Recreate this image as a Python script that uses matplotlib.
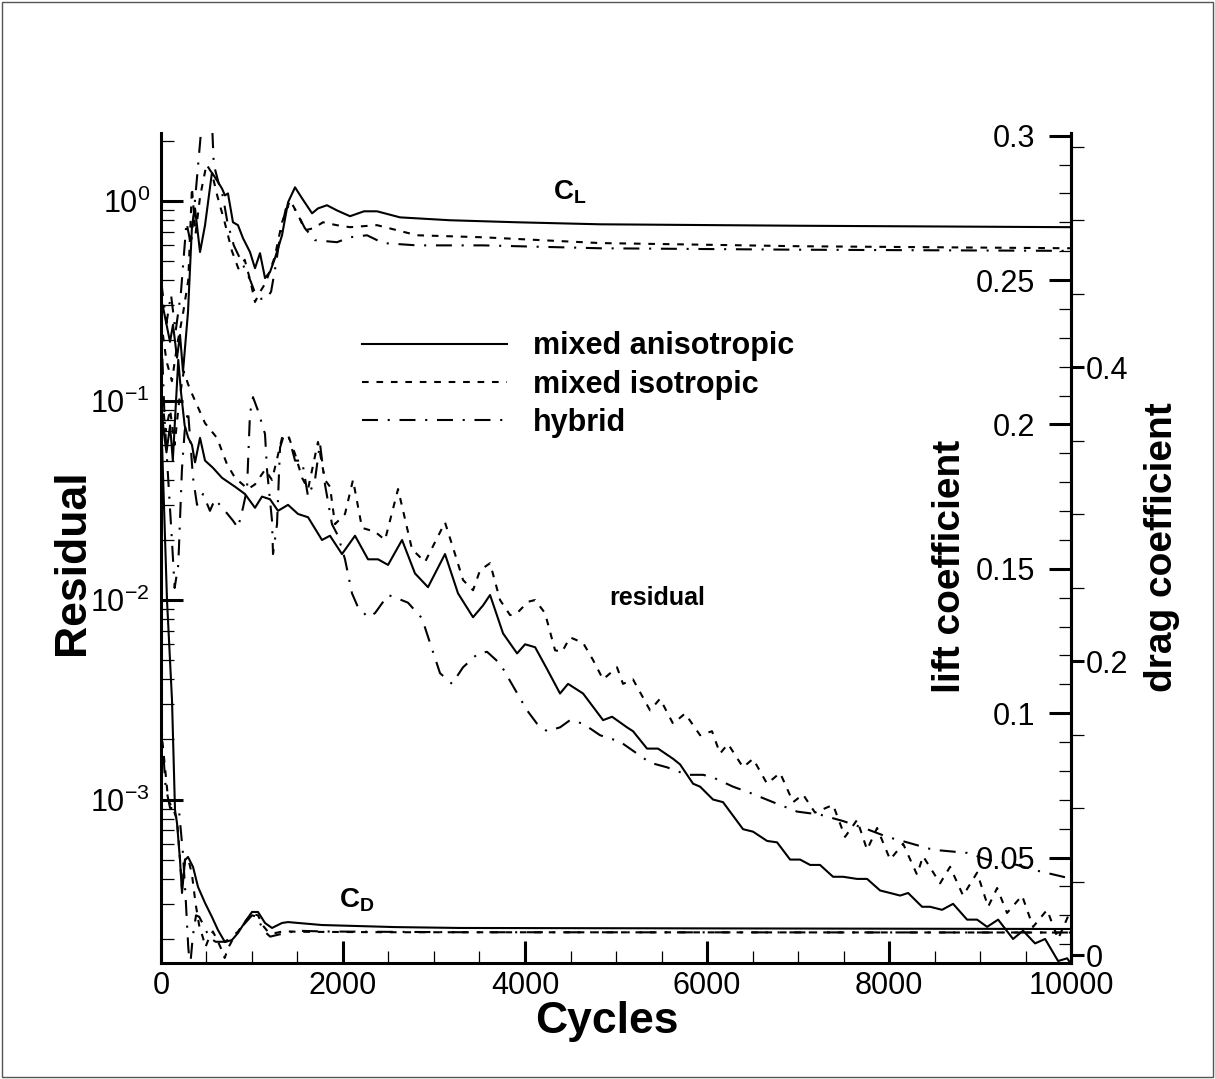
import matplotlib
matplotlib.use("Agg")
import matplotlib.pyplot as plt
from matplotlib.ticker import MultipleLocator, LogLocator, FuncFormatter, NullFormatter
from matplotlib.patches import Rectangle

plt.rcParams['font.family'] = ['Liberation Sans', 'DejaVu Sans']
plt.rcParams['mathtext.fontset'] = 'custom'
plt.rcParams['mathtext.rm'] = 'Liberation Sans'
plt.rcParams['mathtext.bf'] = 'Liberation Sans:bold'
plt.rcParams['mathtext.it'] = 'Liberation Sans:italic'
plt.rcParams['mathtext.default'] = 'regular'
plt.rcParams['axes.unicode_minus'] = False
plt.rcParams['lines.scale_dashes'] = False

# (cycles, value) pairs
aniso_res = [(0, 0.1), (30, 0.07), (60, 0.055), (100, 0.075), (130, 0.05), (160, 0.09), (190, 0.16),
             (220, 0.11), (260, 0.075), (300, 0.065), (340, 0.06), (374, 0.049), (429, 0.065), (484, 0.050),
             (571, 0.046), (670, 0.041), (813, 0.037), (923, 0.034), (1033, 0.029), (1110, 0.033),
             (1198, 0.032), (1286, 0.028), (1396, 0.030), (1506, 0.027), (1616, 0.026), (1769, 0.020),
             (1857, 0.021), (1989, 0.017), (2132, 0.021), (2275, 0.016), (2385, 0.016), (2495, 0.015),
             (2649, 0.020), (2791, 0.0136), (2934, 0.0116), (3121, 0.017), (3264, 0.0108), (3429, 0.0082),
             (3539, 0.0094), (3616, 0.0106), (3759, 0.0068), (3913, 0.0054), (4001, 0.0060), (4111, 0.0058),
             (4243, 0.0045), (4385, 0.0034), (4473, 0.0038), (4638, 0.0034), (4858, 0.0025), (4957, 0.0026),
             (5121, 0.0023), (5187, 0.0022), (5341, 0.0018), (5462, 0.0018), (5627, 0.0016), (5704, 0.0015),
             (5847, 0.0012), (5924, 0.00116), (6066, 0.0010), (6176, 0.00097), (6396, 0.00071),
             (6506, 0.00069), (6660, 0.00062), (6770, 0.00061), (6913, 0.00050), (7023, 0.00050),
             (7133, 0.00047), (7242, 0.00047), (7385, 0.00041), (7495, 0.00041), (7649, 0.00040),
             (7759, 0.00040), (7902, 0.00035), (8012, 0.00034), (8122, 0.00033), (8210, 0.00034),
             (8363, 0.00029), (8451, 0.00029), (8583, 0.00028), (8704, 0.00030), (8858, 0.00025),
             (8968, 0.00025), (9078, 0.00023), (9199, 0.00025), (9363, 0.00020), (9473, 0.00022),
             (9605, 0.00019), (9715, 0.00020), (9858, 0.000155), (9957, 0.00016), (10000, 0.00015)]

iso_res = [(0, 0.12), (50, 0.07), (100, 0.09), (150, 0.06), (200, 0.1), (250, 0.14), (300, 0.12),
           (341, 0.108), (484, 0.077), (615, 0.065), (725, 0.048), (813, 0.041), (956, 0.036), (1033, 0.038),
           (1143, 0.045), (1220, 0.040), (1330, 0.065), (1396, 0.067), (1473, 0.054), (1550, 0.041),
           (1616, 0.036), (1725, 0.062), (1802, 0.040), (1857, 0.037), (1912, 0.024), (2022, 0.027),
           (2110, 0.040), (2209, 0.023), (2352, 0.022), (2462, 0.020), (2605, 0.036), (2758, 0.018),
           (2901, 0.0155), (3121, 0.0245), (3231, 0.017), (3319, 0.0126), (3429, 0.0112), (3506, 0.0141),
           (3616, 0.0153), (3726, 0.010), (3836, 0.0084), (3913, 0.0086), (4033, 0.0098), (4111, 0.0100),
           (4220, 0.0086), (4330, 0.0056), (4407, 0.0055), (4495, 0.0065), (4638, 0.0061), (4748, 0.0050),
           (4858, 0.0040), (5011, 0.0046), (5077, 0.0038), (5187, 0.0040), (5374, 0.0028), (5484, 0.0032),
           (5627, 0.0024), (5759, 0.0027), (5924, 0.0021), (6055, 0.0022), (6143, 0.0017), (6231, 0.0019),
           (6396, 0.00145), (6506, 0.0016), (6660, 0.0012), (6803, 0.00136), (6946, 0.00097),
           (7055, 0.00106), (7187, 0.00086), (7385, 0.00094), (7517, 0.00065), (7649, 0.00079),
           (7759, 0.00056), (7869, 0.00072), (8012, 0.00050), (8155, 0.00060), (8308, 0.00042),
           (8374, 0.00052), (8561, 0.00038), (8671, 0.00046), (8814, 0.00033), (8968, 0.00043),
           (9089, 0.00029), (9188, 0.00036), (9297, 0.00027), (9462, 0.00033), (9583, 0.00023),
           (9737, 0.00028), (9858, 0.00020), (9968, 0.00026), (10000, 0.00025)]

hyb_res = [(0, 0.25), (40, 0.08), (80, 0.04), (120, 0.02), (150, 0.0115), (190, 0.015), (230, 0.045),
           (260, 0.07), (297, 0.089), (352, 0.041), (396, 0.030), (462, 0.034), (538, 0.028), (593, 0.032),
           (703, 0.028), (791, 0.025), (846, 0.023), (901, 0.029), (945, 0.036), (978, 0.086), (1011, 0.104),
           (1066, 0.089), (1143, 0.068), (1165, 0.045), (1220, 0.025), (1231, 0.017), (1275, 0.024),
           (1308, 0.058), (1341, 0.065), (1396, 0.068), (1473, 0.050), (1550, 0.050), (1616, 0.033),
           (1692, 0.040), (1747, 0.061), (1802, 0.038), (1879, 0.024), (1945, 0.021), (2022, 0.016),
           (2099, 0.0108), (2165, 0.0092), (2275, 0.0082), (2352, 0.0086), (2495, 0.0106), (2572, 0.0103),
           (2714, 0.0097), (2868, 0.0081), (2956, 0.0061), (3066, 0.0043), (3198, 0.0038), (3319, 0.0046),
           (3484, 0.0054), (3583, 0.0055), (3726, 0.0048), (3869, 0.0037), (4022, 0.0028), (4132, 0.0024),
           (4242, 0.0022), (4385, 0.0023), (4495, 0.0025), (4638, 0.0024), (4825, 0.0021), (5044, 0.00195),
           (5231, 0.0017), (5374, 0.00153), (5561, 0.00145), (5781, 0.00133), (5957, 0.00133),
           (6066, 0.00129), (6286, 0.00116), (6473, 0.00108), (6726, 0.00097), (6990, 0.00087),
           (7242, 0.00084), (7495, 0.00078), (7759, 0.00071), (7979, 0.00065), (8199, 0.00061),
           (8484, 0.00056), (8858, 0.00054), (9078, 0.00050), (9407, 0.00047), (9627, 0.00044),
           (9913, 0.00041), (10000, 0.00040)]

aniso_cl = [(0, 0.243), (22, 0.2407), (99, 0.2286), (132, 0.2345), (176, 0.2231), (209, 0.231), (242, 0.2183),
            (297, 0.239), (341, 0.269), (374, 0.2748), (429, 0.2597), (484, 0.269), (560, 0.2872),
            (615, 0.2845), (670, 0.2817), (703, 0.2793), (736, 0.28), (791, 0.27), (846, 0.269), (901, 0.2645),
            (978, 0.2597), (1033, 0.2541), (1088, 0.2593), (1143, 0.2507), (1198, 0.2528), (1253, 0.2576),
            (1330, 0.2655), (1396, 0.2769), (1473, 0.2821), (1550, 0.2783), (1660, 0.2731), (1725, 0.2748),
            (1824, 0.2759), (1934, 0.2741), (2077, 0.2721), (2231, 0.2738), (2374, 0.2738), (2627, 0.2717),
            (3176, 0.2707), (3912, 0.27), (4825, 0.2693), (7000, 0.2688), (10000, 0.2683)]

iso_cl = [(0, 0.236), (60, 0.222), (120, 0.215), (180, 0.228), (240, 0.238), (300, 0.25), (340, 0.282),
          (380, 0.266), (430, 0.279), (500, 0.29), (560, 0.287), (620, 0.279), (700, 0.27), (780, 0.26),
          (850, 0.254), (920, 0.257), (980, 0.25), (1033, 0.2424), (1090, 0.246), (1150, 0.249), (1250, 0.258),
          (1330, 0.27), (1418, 0.2776), (1500, 0.273), (1583, 0.2672), (1680, 0.268), (1780, 0.27),
          (1930, 0.269), (2077, 0.2683), (2374, 0.269), (2813, 0.2655), (3539, 0.2648), (4825, 0.2628),
          (7023, 0.2617), (10000, 0.261)]

hyb_cl = [(0, 0.25), (60, 0.235), (110, 0.245), (160, 0.232), (220, 0.246), (280, 0.27), (330, 0.262),
          (400, 0.287), (450, 0.305), (500, 0.33), (540, 0.32), (580, 0.29), (630, 0.284), (680, 0.279),
          (730, 0.27), (800, 0.262), (860, 0.258), (920, 0.254), (980, 0.25), (1040, 0.245), (1100, 0.2435),
          (1160, 0.2435), (1210, 0.246), (1260, 0.255), (1310, 0.2655), (1370, 0.2745), (1430, 0.2765),
          (1500, 0.273), (1580, 0.268), (1692, 0.2638), (1934, 0.2631), (2077, 0.2648), (2264, 0.2655),
          (2440, 0.2628), (2813, 0.262), (3539, 0.262), (4825, 0.261), (7000, 0.2605), (10000, 0.2601)]

aniso_cd = [(0, 0.37), (66, 0.2415), (121, 0.1735), (154, 0.0986), (176, 0.0898), (209, 0.0646), (231, 0.0422),
            (264, 0.0646), (297, 0.0667), (352, 0.0599), (407, 0.0463), (484, 0.0354), (560, 0.0259),
            (626, 0.017), (703, 0.0088), (780, 0.0102), (846, 0.015), (923, 0.0224), (1000, 0.0293),
            (1066, 0.0293), (1143, 0.0218), (1220, 0.0184), (1330, 0.0218), (1396, 0.0224), (1769, 0.0204),
            (2572, 0.019), (3286, 0.0184), (10000, 0.0177)]

iso_cd = [(0, 0.155), (40, 0.13), (80, 0.105), (130, 0.1), (176, 0.092), (209, 0.065), (231, 0.045),
          (264, 0.065), (297, 0.066), (340, 0.055), (380, 0.035), (420, 0.02), (460, 0.012), (490, 0.0055),
          (530, 0.012), (570, 0.016), (620, 0.01), (670, 0.003), (700, -0.002), (740, 0.005), (800, 0.012),
          (870, 0.018), (940, 0.024), (1000, 0.028), (1066, 0.027), (1120, 0.02), (1180, 0.0155),
          (1260, 0.015), (1350, 0.0162), (1500, 0.0158), (2500, 0.0155), (10000, 0.0153)]

hyb_cd = [(0, 0.16), (50, 0.115), (100, 0.1), (150, 0.1), (200, 0.097), (240, 0.07), (270, 0.04), (300, 0.005),
          (320, -0.008), (350, 0.013), (385, 0.027), (420, 0.026), (470, 0.02), (530, 0.012), (600, 0.009),
          (700, 0.009), (800, 0.013), (900, 0.02), (1000, 0.027), (1060, 0.026), (1120, 0.017), (1200, 0.0125),
          (1300, 0.014), (1500, 0.0165), (1800, 0.016), (3300, 0.0155), (10000, 0.0153)]

names = ['mixed anisotropic', 'mixed isotropic', 'hybrid']
styles = ['-', (0, (4.8, 5.6)), (0, (11.5, 7, 1.5, 7))]


def xy(pts):
    return [p[0] for p in pts], [p[1] for p in pts]


fig = plt.figure(figsize=(12.15, 10.79), dpi=100)
ax = fig.add_axes([0.1325, 0.1075, 0.749, 0.7692])
axl = ax.twinx()
axd = ax.twinx()

for pts, ls, nm in zip([aniso_res, iso_res, hyb_res], styles, names):
    x, y = xy(pts)
    ax.plot(x, y, color='k', lw=1.5, ls=ls, label=nm)
for pts, ls in zip([aniso_cl, iso_cl, hyb_cl], styles):
    x, y = xy(pts)
    axl.plot(x, y, color='k', lw=1.5, ls=ls)
for pts, ls in zip([aniso_cd, iso_cd, hyb_cd], styles):
    x, y = xy(pts)
    axd.plot(x, y, color='k', lw=1.5, ls=ls)

# residual axis (log, left)
ax.set_yscale('log')
ax.set_xlim(0, 10000)
ax.set_ylim(10 ** -3.8195, 10 ** 0.3409)
ax.xaxis.set_major_locator(MultipleLocator(2000))
ax.xaxis.set_minor_locator(MultipleLocator(500))
ax.yaxis.set_major_locator(LogLocator(base=10))
ax.yaxis.set_minor_locator(LogLocator(base=10, subs=range(2, 10)))
ax.yaxis.set_minor_formatter(NullFormatter())
ax.xaxis.set_ticks_position('bottom')
ax.yaxis.set_ticks_position('left')
ax.tick_params(which='major', direction='in', length=16, width=2.2, labelsize=22)
ax.tick_params(which='minor', direction='in', length=9, width=0.9)
ax.tick_params(axis='x', pad=6)
ax.tick_params(axis='y', pad=8)
for s in ['top', 'right']:
    ax.spines[s].set_visible(False)
for s in ['left', 'bottom']:
    ax.spines[s].set_linewidth(2.2)

ax.set_xlabel('Cycles', fontsize=32, fontweight='bold')
ax.xaxis.label.set_va('center')
ax.xaxis.set_label_coords(0.49, -0.071)
ax.set_ylabel('Residual', fontsize=32, fontweight='bold')
ax.yaxis.label.set_va('center')
ax.yaxis.set_label_coords(-0.097, 0.483)

# lift axis: on the right spine, ticks and labels inside
axl.set_ylim(0.0135, 0.3009)
axl.yaxis.tick_left()
axl.yaxis.set_label_position('left')
axl.spines['left'].set_position(('axes', 1.0))
axl.spines['left'].set_linewidth(2.2)
for s in ['top', 'right', 'bottom']:
    axl.spines[s].set_visible(False)
axl.yaxis.set_major_locator(MultipleLocator(0.05))
axl.yaxis.set_minor_locator(MultipleLocator(0.01))
axl.yaxis.set_major_formatter(FuncFormatter(lambda v, p: '%g' % round(v, 3)))
axl.tick_params(axis='y', which='major', direction='out', length=16, width=2.2, labelsize=22, pad=10)
axl.tick_params(axis='y', which='minor', direction='out', length=9, width=0.9)
axl.set_ylabel('lift coefficient', fontsize=28, fontweight='bold')
axl.yaxis.label.set_va('center')
axl.yaxis.set_label_coords(0.867, 0.478)

# drag axis: right spine, ticks outside
axd.set_ylim(-0.00544, 0.5592)
for s in ['top', 'left', 'bottom']:
    axd.spines[s].set_visible(False)
axd.spines['right'].set_linewidth(2.2)
axd.yaxis.set_major_locator(MultipleLocator(0.2))
axd.yaxis.set_minor_locator(MultipleLocator(0.05))
axd.yaxis.set_major_formatter(FuncFormatter(lambda v, p: '%g' % round(v, 3)))
axd.tick_params(axis='y', which='major', direction='out', length=9, width=2.2, labelsize=22, pad=1.5)
axd.tick_params(axis='y', which='minor', direction='out', length=9.5, width=0.9)
axd.set_ylabel('drag coefficient', fontsize=28, fontweight='bold')
axd.yaxis.label.set_va('center')
axd.yaxis.set_label_coords(1.100, 0.501)

# annotations
axl.text(4495, 0.2803, r'$\mathbf{C_L}$', fontsize=20, ha='center', va='center')
axd.text(2154, 0.0374, r'$\mathbf{C_D}$', fontsize=20, ha='center', va='center')
ax.text(5451, 0.0102, 'residual', fontsize=18, fontweight='bold', ha='center', va='center')

ax.legend(loc='upper left', bbox_to_anchor=(0.2209, 0.761), frameon=False,
          prop={'size': 22, 'weight': 'bold'}, handlelength=4.74, handletextpad=0.85,
          labelspacing=0.27, borderpad=0, borderaxespad=0)

fig.add_artist(Rectangle((0.0015, 0.0015), 0.997, 0.997, transform=fig.transFigure,
                         fill=False, lw=1, ec='#555555'))

fig.savefig('out.png', dpi=100)
